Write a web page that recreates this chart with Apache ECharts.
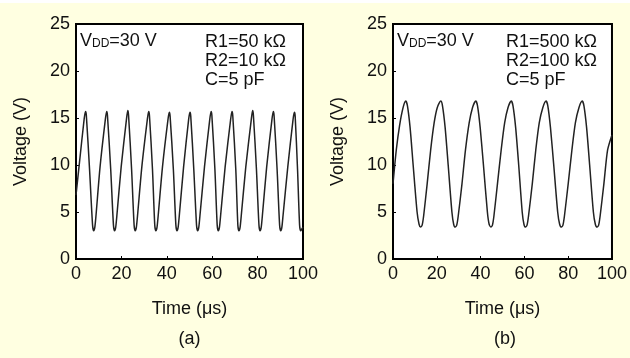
<!DOCTYPE html>
<html>
<head>
<meta charset="utf-8">
<script src="https://cdn.jsdelivr.net/npm/echarts@6/dist/echarts.min.js"></script>
<style>
html,body{margin:0;padding:0;background:#FFFFE1;}
#chart{width:630px;height:358px;}
</style>
</head>
<body>
<div id="chart"></div>
<script>
// Panel (a): R1=50 kΩ, R2=10 kΩ, C=5 pF
var timeA = [0, 1.5, 3.6, 4.2, 4.55, 6.0, 7.3, 7.8, 8.3, 8.8, 10.6, 12.9, 13.5, 13.85, 15.3, 16.5, 17.0, 17.5, 18.0, 19.9, 22.2, 22.8, 23.15, 24.5, 25.6, 26.1, 26.6, 27.1, 29.0, 31.4, 32.0, 32.35, 33.7, 34.7, 35.2, 35.7, 36.2, 38.1, 40.5, 41.1, 41.45, 42.9, 44.0, 44.5, 45.0, 45.5, 47.4, 49.6, 50.2, 50.55, 51.9, 53.1, 53.6, 54.1, 54.6, 56.6, 58.9, 59.5, 59.85, 61.2, 62.2, 62.7, 63.2, 63.7, 65.7, 68.1, 68.7, 69.05, 70.4, 71.3, 71.8, 72.3, 72.8, 74.8, 77.2, 77.8, 78.15, 79.5, 80.6, 81.1, 81.6, 82.1, 84.0, 86.3, 86.9, 87.25, 88.6, 89.7, 90.2, 90.7, 91.2, 93.3, 95.6, 96.2, 96.55, 97.6, 98.5, 99.0, 99.5, 100];
var voltA = [6.8, 10.2, 14.9, 15.7, 15.3, 9.4, 3.6, 3.0, 3.4, 4.6, 9.8, 14.8, 15.7, 15.3, 9.5, 3.6, 3.0, 3.4, 4.6, 9.8, 14.8, 15.8, 15.3, 9.5, 3.6, 3.0, 3.4, 4.6, 9.8, 14.8, 15.7, 15.3, 9.5, 3.6, 3.0, 3.4, 4.6, 9.8, 14.8, 15.6, 15.2, 9.5, 3.6, 3.0, 3.4, 4.6, 9.8, 14.8, 15.6, 15.2, 9.5, 3.6, 3.0, 3.4, 4.6, 9.8, 14.8, 15.7, 15.3, 9.5, 3.6, 3.0, 3.4, 4.6, 9.8, 14.8, 15.7, 15.3, 9.5, 3.6, 3.0, 3.4, 4.6, 9.8, 14.8, 15.8, 15.3, 9.5, 3.6, 3.0, 3.4, 4.6, 9.8, 14.8, 15.7, 15.3, 9.5, 3.6, 3.0, 3.4, 4.6, 9.8, 14.8, 15.6, 15.2, 9.5, 3.6, 3.0, 3.2, 3.4];

// Panel (b): R1=500 kΩ, R2=100 kΩ, C=5 pF
var timeB = [0, 1.5, 3.0, 4.6, 5.8, 6.6, 7.8, 9.2, 11.0, 11.9, 12.6, 13.3, 14.0, 15.6, 17.2, 18.8, 20.2, 21.8, 22.6, 23.8, 25.2, 26.9, 27.7, 28.4, 29.1, 29.8, 31.5, 33.1, 34.8, 36.3, 37.8, 38.6, 39.8, 41.3, 43.1, 43.9, 44.7, 45.4, 46.1, 47.7, 49.4, 51.0, 52.5, 54.0, 54.8, 56.0, 57.4, 59.0, 59.8, 60.5, 61.2, 61.9, 63.6, 65.2, 66.8, 68.4, 69.9, 70.7, 71.9, 73.4, 75.2, 76.1, 76.9, 77.6, 78.3, 80.0, 81.7, 83.3, 84.9, 86.4, 87.2, 88.4, 89.8, 91.5, 92.4, 93.2, 93.9, 94.6, 96.3, 98.0, 100];
var voltB = [8.0, 11.6, 14.2, 16.1, 16.8, 16.3, 14.0, 10.0, 5.0, 3.7, 3.4, 3.6, 4.6, 8.0, 11.6, 14.5, 16.1, 16.8, 16.3, 14.0, 10.0, 5.0, 3.7, 3.4, 3.6, 4.6, 8.0, 11.6, 14.5, 16.1, 16.8, 16.3, 14.0, 10.0, 5.0, 3.7, 3.4, 3.6, 4.6, 8.0, 11.6, 14.5, 16.1, 16.8, 16.3, 14.0, 10.0, 5.0, 3.7, 3.4, 3.6, 4.6, 8.0, 11.6, 14.5, 16.1, 16.8, 16.3, 14.0, 10.0, 5.0, 3.7, 3.4, 3.6, 4.6, 8.0, 11.6, 14.5, 16.1, 16.8, 16.3, 14.0, 10.0, 5.0, 3.7, 3.4, 3.6, 4.6, 8.0, 11.6, 13.2];

var xTicks = [0, 20, 40, 60, 80, 100];
var yTicks = [0, 5, 10, 15, 20, 25];
var xTitle = 'Time (\u03bcs)';
var yTitle = 'Voltage (V)';
var panelLabels = ['(a)', '(b)'];
var paramsA = ['R1=50 k\u03a9', 'R2=10 k\u03a9', 'C=5 pF'];
var paramsB = ['R1=500 k\u03a9', 'R2=100 k\u03a9', 'C=5 pF'];
var vddText = '=30 V';

function zip(xs, ys) { return xs.map(function (x, i) { return [x, ys[i]]; }); }

var FONT = 'Liberation Sans, Arial, sans-serif';
var FS = 18;
var grids = [
  {left: 76, top: 24, width: 227, height: 235},
  {left: 393, top: 24, width: 225, height: 235}
];

function xAx(i) {
  return {
    type: 'value', gridIndex: i, min: xTicks[0], max: xTicks[xTicks.length - 1], interval: xTicks[1] - xTicks[0],
    name: xTitle, nameLocation: 'middle', nameGap: 41,
    nameTextStyle: {fontFamily: FONT, fontSize: FS, color: '#111'},
    axisLine: {show: true, lineStyle: {color: '#000', width: 2}},
    axisTick: {show: true, inside: true, length: 3, lineStyle: {color: '#000', width: 1}},
    axisLabel: {fontFamily: FONT, fontSize: FS, color: '#111', margin: 6},
    splitLine: {show: false}
  };
}
function yAx(i) {
  return {
    type: 'value', gridIndex: i, min: yTicks[0], max: yTicks[yTicks.length - 1], interval: yTicks[1] - yTicks[0],
    name: yTitle, nameLocation: 'middle', nameGap: 46, nameRotate: 90,
    nameTextStyle: {fontFamily: FONT, fontSize: FS, color: '#111'},
    axisLine: {show: true, lineStyle: {color: '#000', width: 2}},
    axisTick: {show: true, inside: true, length: 3, lineStyle: {color: '#000', width: 1}},
    axisLabel: {fontFamily: FONT, fontSize: FS, color: '#111', margin: 6},
    splitLine: {show: false}
  };
}

function vddGraphic(x, y) {
  return {
    type: 'text', left: x, top: y,
    style: {
      text: '{v|V}{s|DD}{v|' + vddText + '}',
      rich: {
        v: {fontFamily: FONT, fontSize: 18, fill: '#111', lineHeight: 20},
        s: {fontFamily: FONT, fontSize: 12, fill: '#111', lineHeight: 20, padding: [6, 0, 0, 0]}
      }
    }
  };
}
function paramGraphic(x, y, t) {
  return {type: 'text', left: x, top: y, style: {text: t, fontFamily: FONT, fontSize: 18, fill: '#111'}};
}

var graphics = [
  {type: 'rect', left: 0, top: 0, shape: {width: 630, height: 3}, style: {fill: '#ffffff'}},
  vddGraphic(80, 32),
  vddGraphic(397, 32)
];
paramsA.forEach(function (t, i) { graphics.push(paramGraphic(205, 33 + i * 19, t)); });
paramsB.forEach(function (t, i) { graphics.push(paramGraphic(506, 33 + i * 19, t)); });
graphics.push({type: 'text', x: 189.5, y: 339, style: {text: panelLabels[0], fontFamily: FONT, fontSize: FS, fill: '#111', align: 'center', verticalAlign: 'middle'}});
graphics.push({type: 'text', x: 505, y: 339, style: {text: panelLabels[1], fontFamily: FONT, fontSize: FS, fill: '#111', align: 'center', verticalAlign: 'middle'}});

var chart = echarts.init(document.getElementById('chart'), null, {renderer: 'canvas'});
chart.setOption({
  backgroundColor: '#FFFFE1',
  animation: false,
  grid: grids.map(function (g) {
    return Object.assign({show: true, backgroundColor: '#ffffff', borderColor: '#000', borderWidth: 2, containLabel: false}, g);
  }),
  xAxis: [xAx(0), xAx(1)],
  yAxis: [yAx(0), yAx(1)],
  series: [
    {type: 'line', xAxisIndex: 0, yAxisIndex: 0, data: zip(timeA, voltA), showSymbol: false, smooth: 0.25,
     lineStyle: {color: '#222', width: 1.5}},
    {type: 'line', xAxisIndex: 1, yAxisIndex: 1, data: zip(timeB, voltB), showSymbol: false, smooth: 0.25,
     lineStyle: {color: '#222', width: 1.5}}
  ],
  graphic: graphics
});
</script>
</body>
</html>
